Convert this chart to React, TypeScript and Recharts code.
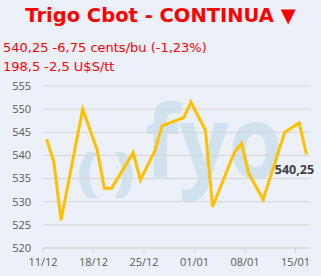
import React from 'react';
import { LineChart, Line, XAxis, YAxis, CartesianGrid, LabelList } from 'recharts';

// días desde el 11/12 (cotización al mediodía)
const dias = [0, 1, 2, 5, 7, 8, 9, 12, 13, 15, 16, 19, 20, 22, 23, 26, 27, 28, 30, 33, 35, 36];
const precios = [
  543.5, 538.6, 526.0, 550.0, 541.2, 532.9, 532.9, 540.6, 534.7, 541.0, 546.4,
  548.2, 551.5, 545.5, 528.9, 540.6, 542.6, 536.1, 530.5, 545.0, 547.0, 540.25,
];
const tickDias = [0, 7, 14, 21, 28, 35];
const tickFechas = ['11/12', '18/12', '25/12', '01/01', '08/01', '15/01'];
const tickPrecios = [520, 525, 530, 535, 540, 545, 550, 555];

const data = dias.map((d, i) => ({
  dia: d + 0.5,
  precio: precios[i],
  etiqueta: i === dias.length - 1 ? '540,25' : '',
}));

const BG = '#ECF0F8';
const ROJO = '#FF0000';
const MARCA = '#D0E2ED';

export default function App() {
  return (
    <div
      style={{
        position: 'absolute',
        top: 0,
        left: 0,
        width: 321,
        height: 276,
        background: BG,
        overflow: 'hidden',
        fontFamily: '"DejaVu Sans", Verdana, sans-serif',
      }}
    >
      {/* marca de agua */}
      <svg width={321} height={276} style={{ position: 'absolute', top: 0, left: 0 }}>
        <g fill={MARCA} fontFamily='"Open Sans", sans-serif' fontWeight="bold">
          <text x={79} y={189} fontSize={48} stroke={MARCA} strokeWidth={3.5}>(</text>
          <text x={116} y={189} fontSize={48} stroke={MARCA} strokeWidth={3.5}>)</text>
          <text x={145} y={178} fontSize={101} textLength={138} lengthAdjust="spacingAndGlyphs">
            fyo
          </text>
        </g>
      </svg>
      <div
        style={{
          position: 'absolute',
          top: 4,
          left: 0,
          width: 321,
          textAlign: 'center',
          fontSize: 19.5,
          fontWeight: 'bold',
          color: ROJO,
        }}
      >
        Trigo Cbot - CONTINUA ▼
      </div>
      <div style={{ position: 'absolute', top: 40, left: 3, fontSize: 13, color: ROJO }}>
        540,25 -6,75 cents/bu (-1,23%)
      </div>
      <div style={{ position: 'absolute', top: 59, left: 3, fontSize: 13, color: ROJO }}>
        198,5 -2,5 U$S/tt
      </div>
      <div style={{ position: 'absolute', top: 0, left: 0 }}>
        <LineChart
          width={321}
          height={276}
          data={data}
          margin={{ top: 86, right: 11, bottom: 8, left: 0 }}
        >
          <CartesianGrid vertical={false} stroke="#D4D4D4" />
          <XAxis
            dataKey="dia"
            type="number"
            domain={[0, 37]}
            ticks={tickDias}
            tickFormatter={(v) => tickFechas[tickDias.indexOf(v)]}
            height={20}
            tickSize={5}
            tickMargin={5}
            stroke="#D4D4D4"
            tick={{ fontSize: 11, fill: '#595959', fontFamily: '"Open Sans", sans-serif' }}
          />
          <YAxis
            domain={[520, 555]}
            ticks={tickPrecios}
            width={43}
            axisLine={false}
            tickLine={false}
            tickMargin={6}
            tick={{ fontSize: 11, fill: '#595959', fontFamily: '"Open Sans", sans-serif' }}
          />
          <Line
            type="linear"
            dataKey="precio"
            stroke="#FFC000"
            strokeWidth={3}
            dot={false}
            isAnimationActive={false}
          >
            <LabelList
              dataKey="etiqueta"
              position="bottom"
              offset={11}
              style={{ fontSize: 12.5, fontWeight: 'bold', fill: '#404040', fontFamily: '"Open Sans", sans-serif' }}
              dx={-12}
            />
          </Line>
        </LineChart>
      </div>
    </div>
  );
}
